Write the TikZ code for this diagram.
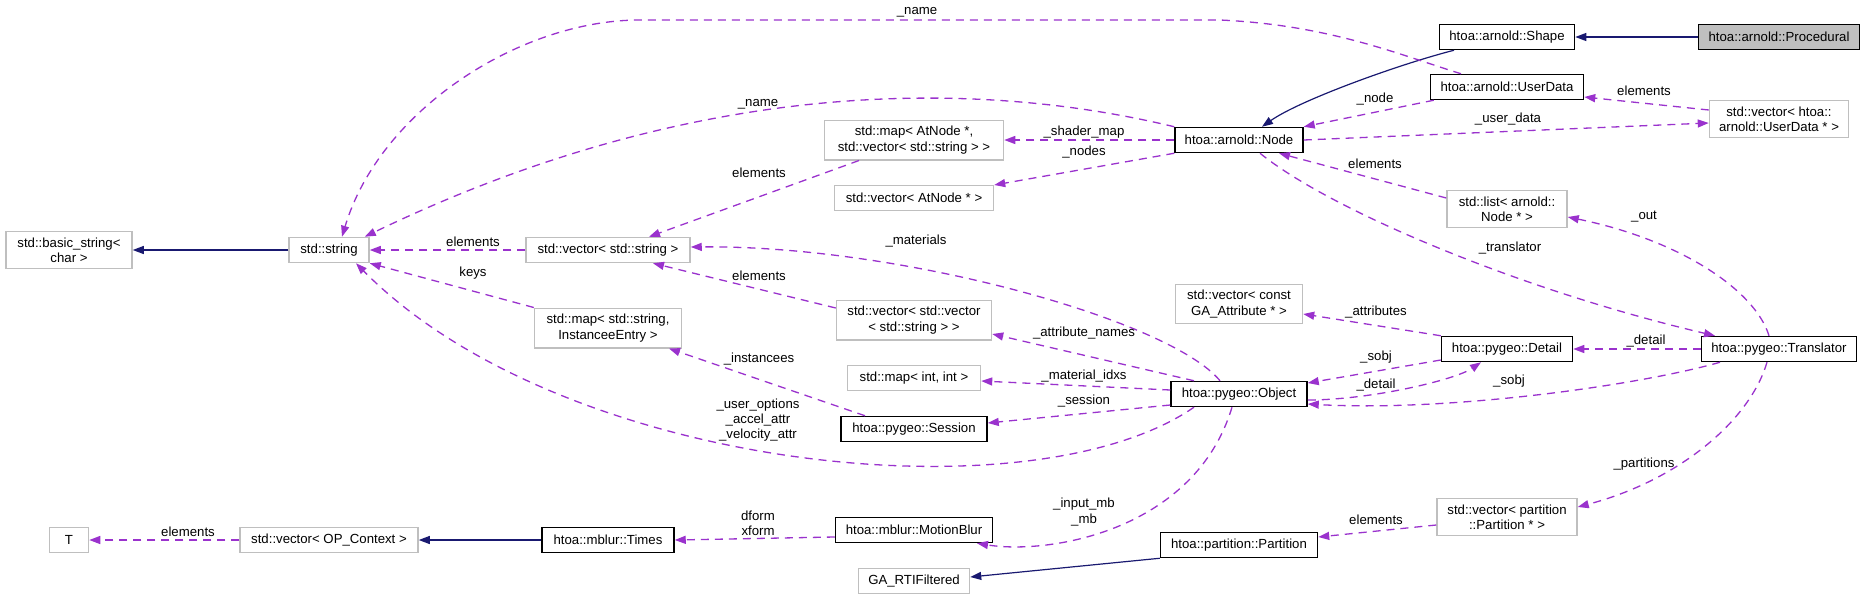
\documentclass[tikz,border=0pt]{standalone}
\usepackage{fontspec}
\setmainfont{Liberation Sans}
\usepackage{tikz}
\usetikzlibrary{arrows.meta}
\definecolor{usecol}{RGB}{154,50,205}
\definecolor{inhcol}{RGB}{25,25,112}
\definecolor{extcol}{RGB}{191,191,191}
\definecolor{curcol}{RGB}{191,191,191}

\begin{document}
\begin{tikzpicture}[
  x=0.5pt, y=-0.5pt,
  >={Triangle[length=5.5pt,width=4pt]},
  font=\fontsize{6.6}{7.6}\selectfont,
  cls/.style={rectangle,draw=black,line width=0.75pt,fill=white,align=center,
              minimum height=12.5pt,inner xsep=3pt,inner ysep=3pt},
  extcls/.style={cls,draw=extcol},
  curcls/.style={cls,fill=curcol},
  usage/.style={->,draw=usecol,color=usecol,line width=0.65pt,dash pattern=on 4pt off 3pt},
  inherit/.style={->,draw=inhcol,color=inhcol,line width=0.6pt},
  lbl/.style={inner sep=0pt,align=center},
]
\useasboundingbox (0,0) rectangle (1864,600);

% --- classes, one column per rank ---
\node[extcls,minimum width=63pt]   (bstr)    at (69,250)   {std::basic\_string<\\char >};
\node[extcls,minimum width=19.5pt] (tee)     at (69,540)   {T};

\node[extcls,minimum width=40pt]   (str)     at (329,250)  {std::string};
\node[extcls,minimum width=89pt]   (vecop)   at (329,540)  {std::vector< OP\_Context >};

\node[extcls,minimum width=82pt]   (vecstr)  at (608,250)  {std::vector< std::string >};
\node[extcls,minimum width=73.5pt] (mapinst) at (608,328)  {std::map< std::string,\\InstanceeEntry >};
\node[cls,minimum width=66pt]      (times)   at (608,540)  {htoa::mblur::Times};

\node[extcls,minimum width=89.5pt] (mapat)   at (914,140)  {std::map< AtNode *,\\ std::vector< std::string > >};
\node[extcls,minimum width=79.5pt] (vecat)   at (914,198)  {std::vector< AtNode * >};
\node[extcls,minimum width=77.5pt] (vecvec)  at (914,320)  {std::vector< std::vector\\< std::string > >};
\node[extcls,minimum width=66.5pt] (mapint)  at (914,378)  {std::map< int, int >};
\node[cls,minimum width=73pt]      (session) at (914,429)  {htoa::pygeo::Session};
\node[cls,minimum width=78.5pt]    (mblur)   at (914,530)  {htoa::mblur::MotionBlur};
\node[extcls,minimum width=55.5pt] (garti)   at (914,581)  {GA\_RTIFiltered};

\node[cls,minimum width=64pt]      (anode)   at (1239,140) {htoa::arnold::Node};
\node[extcls,minimum width=63.5pt] (vecga)   at (1239,304) {std::vector< const\\GA\_Attribute * >};
\node[cls,minimum width=68pt]      (object)  at (1239,394) {htoa::pygeo::Object};
\node[cls,minimum width=78.5pt]    (partn)   at (1239,545) {htoa::partition::Partition};

\node[cls,minimum width=67.5pt]    (shape)   at (1507,37)  {htoa::arnold::Shape};
\node[cls,minimum width=76.5pt]    (usrdata) at (1507,87)  {htoa::arnold::UserData};
\node[extcls,minimum width=60pt]   (lstnode) at (1507,209) {std::list< arnold::\\Node * >};
\node[cls,minimum width=65.5pt]    (detail)  at (1507,349) {htoa::pygeo::Detail};
\node[extcls,minimum width=70pt]   (vecpart) at (1507,517) {std::vector< partition\\::Partition * >};

\node[curcls,minimum width=80.5pt] (proc)    at (1779,37)  {htoa::arnold::Procedural};
\node[extcls,minimum width=69.5pt] (vecud)   at (1779,119) {std::vector< htoa::\\arnold::UserData * >};
\node[cls,minimum width=77.5pt]    (transl)  at (1779,349) {htoa::pygeo::Translator};

% --- inheritance ---
\draw[inherit] (proc.west) -- (shape.east);
\draw[inherit] ([xshift=-26.5pt]shape.south) .. controls (1400,64) and (1300,100) .. ([xshift=11.5pt]anode.north);
\draw[inherit] (str.west) -- (bstr.east);
\draw[inherit] (times.west) -- (vecop.east);
\draw[inherit] (partn.south west) -- ([yshift=2pt]garti.east);

% --- usage (members) ---
\draw[usage] ([xshift=-23pt]usrdata.north) .. controls (1400,55) and (1330,25) .. (1220,20)
  -- (640,20) .. controls (520,20) and (380,110) .. ([xshift=6.5pt]str.north);
\draw[usage] ([xshift=2pt]usrdata.south west) -- (anode.north east);
\draw[usage] ([yshift=4.5pt]vecud.west) -- ([yshift=-5pt]usrdata.east);
\draw[usage] (anode.east) -- ([yshift=-2pt]vecud.west);
\draw[usage] ([yshift=5.5pt]lstnode.west) -- ([xshift=20pt]anode.south);
\draw[usage] ([xshift=10.5pt]anode.south) .. controls (1330,210) and (1520,290) .. ([xshift=-32pt]transl.north);
\draw[usage] ([xshift=-5pt]transl.north) .. controls (1755,290) and (1680,240) .. ([yshift=-4pt]lstnode.east);
\draw[usage] (anode.north west) .. controls (980,80) and (700,75) .. ([xshift=-2.5pt]str.north east);
\draw[usage] (anode.west) -- (mapat.east);
\draw[usage] (anode.south west) -- ([yshift=6.5pt]vecat.east);
\draw[usage] ([xshift=-27.5pt]mapat.south) -- ([xshift=20.5pt]vecstr.north);
\draw[usage] (vecstr.west) -- (str.east);
\draw[usage] (mapinst.north west) -- (str.south east);
\draw[usage] ([xshift=-22.5pt]object.south) .. controls (1030,520) and (560,470) .. ([xshift=13.5pt]str.south);
\draw[usage] ([yshift=6pt]vecvec.west) -- ([xshift=22.5pt]vecstr.south);
\draw[usage] ([xshift=-9.5pt]object.north) .. controls (1170,320) and (900,245) .. ([yshift=1.5pt]vecstr.east);
\draw[usage] ([xshift=-22.5pt]object.north) -- ([yshift=-7pt]vecvec.east);
\draw[usage] ([yshift=2pt]object.west) -- ([yshift=-1.5pt]mapint.east);
\draw[usage] ([yshift=-5.5pt]object.west) -- ([yshift=3pt]session.east);
\draw[usage] ([xshift=-24.5pt]session.north) -- ([xshift=30.5pt]mapinst.south);
\draw[usage] ([yshift=-3.5pt]mblur.west) -- (times.east);
\draw[usage] ([xshift=-3.5pt]object.south) .. controls (1195,530) and (1050,555) .. ([xshift=31.5pt]mblur.south);
\draw[usage] (vecop.west) -- (tee.east);
\draw[usage] ([yshift=-4pt]vecpart.west) -- ([yshift=4pt]partn.east);
\draw[usage] ([xshift=-6pt]transl.south) .. controls (1750,420) and (1680,480) .. ([yshift=5pt]vecpart.east);
\draw[usage] (transl.west) -- (detail.east);
\draw[usage] (detail.north west) -- ([yshift=-5pt]vecga.east);
\draw[usage] ([yshift=-5.5pt]detail.west) -- ([yshift=5.5pt]object.east);
\draw[usage] ([yshift=-3pt]object.east) .. controls (1370,400) and (1455,380) .. ([xshift=-13pt]detail.south);
\draw[usage] ([xshift=-29.5pt]transl.south) .. controls (1640,385) and (1450,412) .. ([yshift=-5pt]object.east);

% --- edge labels ---
\node[lbl] (l-name1)   at (917,12)   {\_name};
\node[lbl] (l-node)    at (1375,99)  {\_node};
\node[lbl] (l-elud)    at (1644,91)  {elements};
\node[lbl] (l-udata)   at (1508,119) {\_user\_data};
\node[lbl] (l-ellst)   at (1375,164) {elements};
\node[lbl] (l-transl)  at (1510,248) {\_translator};
\node[lbl] (l-out)     at (1644,217) {\_out};
\node[lbl] (l-name2)   at (758,104)  {\_name};
\node[lbl] (l-shmap)   at (1084,132) {\_shader\_map};
\node[lbl] (l-nodes)   at (1084,152) {\_nodes};
\node[lbl] (l-elmap)   at (759,173)  {elements};
\node[lbl] (l-elstr)   at (473,242)  {elements};
\node[lbl] (l-keys)    at (473,273)  {keys};
\node[lbl] (l-uopt)    at (758,420)  {\_user\_options\\\_accel\_attr\\\_velocity\_attr};
\node[lbl] (l-elvec)   at (759,276)  {elements};
\node[lbl] (l-mater)   at (916,241)  {\_materials};
\node[lbl] (l-attrn)   at (1084,333) {\_attribute\_names};
\node[lbl] (l-matidx)  at (1084,376) {\_material\_idxs};
\node[lbl] (l-sess)    at (1084,401) {\_session};
\node[lbl] (l-inst)    at (759,359)  {\_instancees};
\node[lbl] (l-xform)   at (758,523)  {dform\\xform};
\node[lbl] (l-inmb)    at (1084,512) {\_input\_mb\\\_mb};
\node[lbl] (l-elop)    at (188,532)  {elements};
\node[lbl] (l-elpart)  at (1376,520) {elements};
\node[lbl] (l-parts)   at (1644,464) {\_partitions};
\node[lbl] (l-detail1) at (1646,341) {\_detail};
\node[lbl] (l-attrs)   at (1376,312) {\_attributes};
\node[lbl] (l-sobj1)   at (1376,357) {\_sobj};
\node[lbl] (l-detail2) at (1376,385) {\_detail};
\node[lbl] (l-sobj2)   at (1509,381) {\_sobj};
\end{tikzpicture}
\end{document}
